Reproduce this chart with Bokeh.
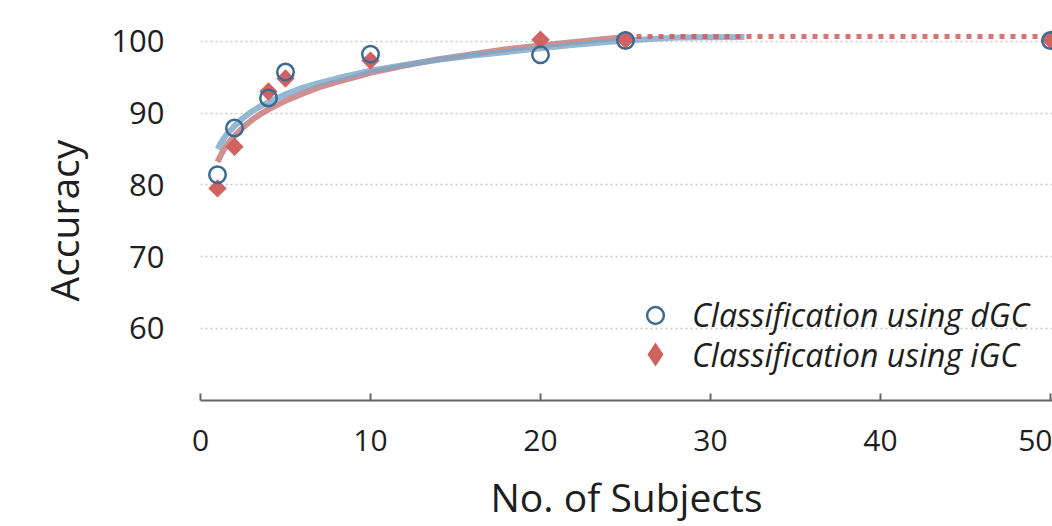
import numpy as np
from bokeh.plotting import figure
from bokeh.models import Legend, LegendItem, Range1d, FixedTicker, Title
from bokeh.embed import file_html
from bokeh.resources import INLINE

# ---- data ----
subjects = [1, 2, 4, 5, 10, 20, 25, 50]
acc_dgc = [81.4, 87.9, 92.1, 95.7, 98.2, 98.1, 100.1, 100.1]
acc_igc = [79.5, 85.3, 93.0, 94.8, 97.3, 100.2, 100.2, 100.2]

trend_dgc_x = [1, 1.25, 1.5, 2, 2.5, 3, 3.5, 4, 5, 6, 7, 8, 10, 12, 14, 16, 18, 20, 22, 25, 28, 32]
trend_dgc_y = [85.0, 86.0, 86.9, 88.2, 89.3, 90.2, 90.9, 91.5, 92.6, 93.5, 94.2, 94.8, 95.9,
               96.7, 97.4, 98.0, 98.5, 99.0, 99.5, 100.1, 100.5, 100.6]
trend_igc_x = [1, 1.25, 1.5, 2, 2.5, 3, 3.5, 4, 5, 6, 7, 8, 10, 12, 14, 16, 18, 20, 22, 25]
trend_igc_y = [83.2, 84.4, 85.4, 86.8, 88.0, 89.0, 89.8, 90.5, 91.7, 92.7, 93.6, 94.3, 95.6,
               96.6, 97.5, 98.2, 98.9, 99.4, 99.9, 100.6]
plateau_x = [25, 50]
plateau_y = [100.65, 100.65]

x_ticks = [0, 10, 20, 30, 40, 50]
y_ticks = [60, 70, 80, 90, 100]

FONT = "Open Sans"
TXT = "#1e1e1e"
BLUE_MK = "#3b6a92"
RED_MK = "#d06262"

p = figure(width=1052, height=526, output_backend="svg", toolbar_location=None,
           x_range=Range1d(0, 50.118), y_range=Range1d(49.96, 105.67),
           min_border_left=200, min_border_right=0, min_border_top=0, min_border_bottom=126)
p.outline_line_color = None
p.background_fill_color = "white"

# axes
p.xaxis.ticker = FixedTicker(ticks=x_ticks)
p.yaxis.ticker = FixedTicker(ticks=y_ticks)
p.xaxis.axis_line_color = "#666666"
p.xaxis.axis_line_width = 2
p.xaxis.major_tick_line_color = "#666666"
p.xaxis.major_tick_line_width = 2
p.xaxis.major_tick_in = 7
p.xaxis.major_tick_out = 0
p.xaxis.minor_tick_line_color = None
p.xaxis.major_label_text_font = FONT
p.xaxis.major_label_text_font_size = "30px"
p.xaxis.major_label_text_color = TXT
p.xaxis.major_label_standoff = 29
p.xaxis.axis_label = "No. of Subjects"
p.xaxis.axis_label_text_font = FONT
p.xaxis.axis_label_text_font_size = "39px"
p.xaxis.axis_label_text_font_style = "normal"
p.xaxis.axis_label_text_color = TXT
p.xaxis.axis_label_standoff = 16

p.yaxis.axis_line_color = None
p.yaxis.major_tick_line_color = None
p.yaxis.minor_tick_line_color = None
p.yaxis.major_label_text_font = FONT
p.yaxis.major_label_text_font_size = "31px"
p.yaxis.major_label_text_color = TXT
p.yaxis.major_label_standoff = 30

p.xgrid.grid_line_color = None
p.ygrid.grid_line_color = "#c8c8c8"
p.ygrid.grid_line_width = 1.5
p.ygrid.grid_line_dash = "2 3"

# trend lines
p.line(trend_igc_x, trend_igc_y, line_width=6, line_color="#c47474", line_alpha=0.8)
p.line(trend_dgc_x, trend_dgc_y, line_width=6, line_color="#7aa6c8", line_alpha=0.8)
p.line(plateau_x, plateau_y, line_width=5, line_color="#cc5c5c", line_alpha=0.85,
       line_dash="5 6")

# legend key for the iGC series: tiny diamonds hidden beneath the visible markers
diam_key = p.scatter(subjects, acc_igc, marker="diamond", size=2,
                     fill_color=RED_MK, line_color=None)
# markers
diam = p.scatter(subjects, acc_igc, marker="square", angle=np.pi / 4, size=13,
                 fill_color=RED_MK, line_color=None)
circ = p.scatter(subjects, acc_dgc, marker="circle", size=16.5, fill_color=None,
                 line_color=BLUE_MK, line_width=2.5)

legend_a = Legend(items=[LegendItem(label="Classification using dGC", renderers=[circ])],
                  location=(434, 64), orientation="vertical",
                  glyph_width=42, glyph_height=42, label_standoff=16,
                  label_text_font=FONT, label_text_font_size="32px",
                  label_text_font_style="italic", label_text_color=TXT,
                  background_fill_alpha=0, border_line_color=None,
                  padding=0, margin=0, spacing=0)
legend_b = Legend(items=[LegendItem(label="Classification using iGC", renderers=[diam_key])],
                  location=(425, 16), orientation="vertical",
                  glyph_width=60, glyph_height=60, label_standoff=7,
                  label_text_font=FONT, label_text_font_size="32px",
                  label_text_font_style="italic", label_text_color=TXT,
                  background_fill_alpha=0, border_line_color=None,
                  padding=0, margin=0, spacing=0)
p.add_layout(legend_a, "center")
p.add_layout(legend_b, "center")

ytitle = Title(text="Accuracy", align="left", offset=99, standoff=37,
               text_font=FONT, text_font_size="39px", text_font_style="normal",
               text_color=TXT)
p.add_layout(ytitle, "left")

open("out.html", "w").write(file_html(p, INLINE))
